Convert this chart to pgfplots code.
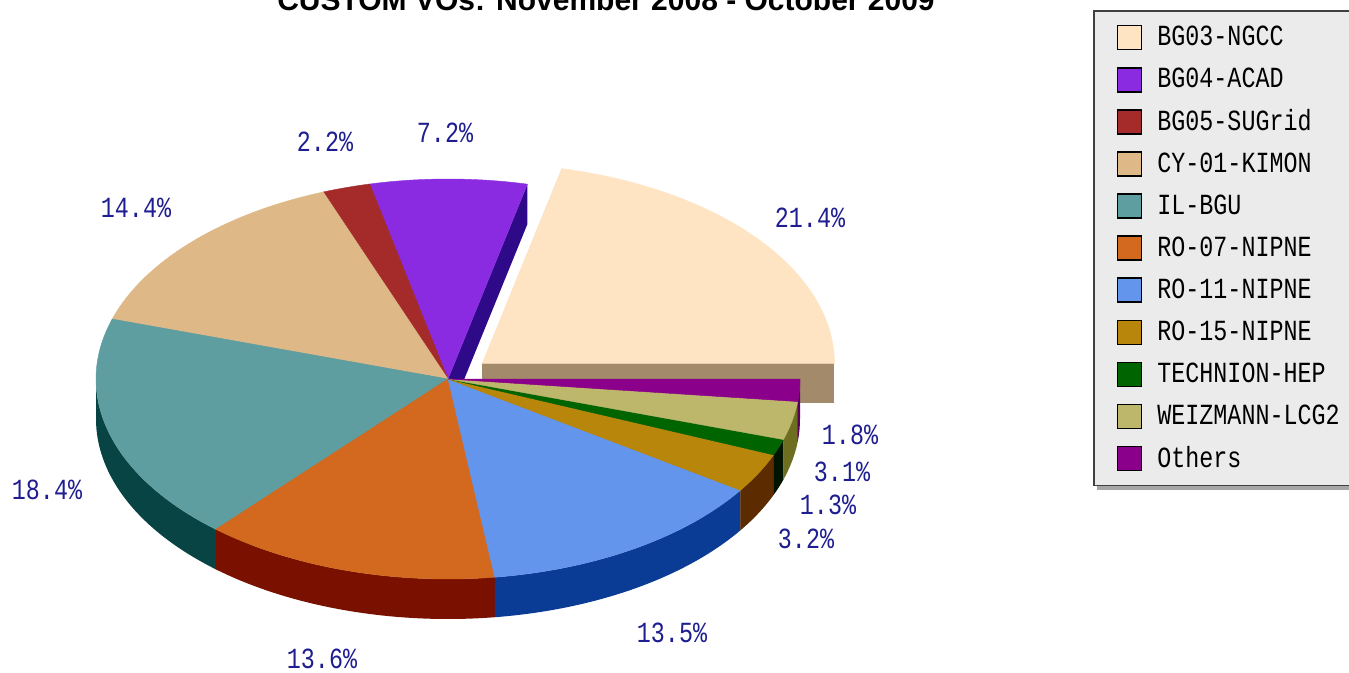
\documentclass[border=0pt]{standalone}
\usepackage{pgfplots}
\pgfplotsset{compat=1.18}
\usepackage{pgfplotstable}
\usepackage{fontspec}
\setmainfont{Liberation Sans}
\newfontfamily\pixfont[FakeStretch=0.8]{Liberation Mono}
\pgfdeclarelayer{background}
\pgfsetlayers{background,main}

\definecolor{t0}{HTML}{FFE4C4}
\definecolor{t1}{HTML}{8A2BE2}
\definecolor{t2}{HTML}{A52A2A}
\definecolor{t3}{HTML}{DEB887}
\definecolor{t4}{HTML}{5F9EA0}
\definecolor{t5}{HTML}{D2691E}
\definecolor{t6}{HTML}{6495ED}
\definecolor{t7}{HTML}{B8860B}
\definecolor{t8}{HTML}{006400}
\definecolor{t9}{HTML}{BDB76B}
\definecolor{t10}{HTML}{8B008B}
\definecolor{s0}{HTML}{A28A6A}
\definecolor{s1}{HTML}{2E0A88}
\definecolor{s2}{HTML}{5A1010}
\definecolor{s3}{HTML}{806040}
\definecolor{s4}{HTML}{084444}
\definecolor{s5}{HTML}{7A1000}
\definecolor{s6}{HTML}{0A3C96}
\definecolor{s7}{HTML}{5C2C00}
\definecolor{s8}{HTML}{001400}
\definecolor{s9}{HTML}{6E6E20}
\definecolor{s10}{HTML}{5A005A}
\definecolor{lblblue}{HTML}{1E1E90}

% slice values (percent), explode factor, label position (pixels)
\pgfplotstableread{
name value explode lx ly
BG03-NGCC 21.4 0.125 810 218
BG04-ACAD 7.2 0 445 133
BG05-SUGrid 2.2 0 325 142
CY-01-KIMON 14.4 0 136 208
IL-BGU 18.4 0 47 490
RO-07-NIPNE 13.6 0 322 659
RO-11-NIPNE 13.5 0 672 633
RO-15-NIPNE 3.2 0 806 539
TECHNION-HEP 1.3 0 828 505
WEIZMANN-LCG2 3.1 0 842 472
Others 1.8 0 850 435
}\pietable

\def\cx{448}\def\cy{379}\def\rx{352}\def\ry{200}\def\dep{40}
\def\rxc{176bp}\def\ryc{100bp}
\newcommand\pixsize{\pixfont\fontsize{14.6bp}{16bp}\selectfont}

\newcommand\loadslice[1]{%
 \edef\sA{\csname pA#1\endcsname}%
 \edef\sB{\csname pB#1\endcsname}%
 \edef\sFA{\csname pFA#1\endcsname}%
 \edef\sFB{\csname pFB#1\endcsname}%
 \edef\sOX{\csname pX#1\endcsname}%
 \edef\sOY{\csname pY#1\endcsname}%
 \edef\sDS{\csname pDS#1\endcsname}%
 \edef\sDE{\csname pDE#1\endcsname}%
 \edef\sK{\csname pK#1\endcsname}%
}
\newcommand\drawfaces[1]{%
 \loadslice{#1}%
 \fill[fill=s#1] (axis cs:{\cx+\sOX},{\cy+\sOY}) -- (axis cs:{\cx+\sOX+\rx*cos(\sA)},{\cy+\sOY-\ry*sin(\sA)})
   -- (axis cs:{\cx+\sOX+\rx*cos(\sA)},{\cy+\sOY-\ry*sin(\sA)+\sDS}) -- (axis cs:{\cx+\sOX},{\cy+\sOY+\sDS}) -- cycle;
 \fill[fill=s#1] (axis cs:{\cx+\sOX},{\cy+\sOY}) -- (axis cs:{\cx+\sOX+\rx*cos(\sB)},{\cy+\sOY-\ry*sin(\sB)})
   -- (axis cs:{\cx+\sOX+\rx*cos(\sB)},{\cy+\sOY-\ry*sin(\sB)+\sDE}) -- (axis cs:{\cx+\sOX},{\cy+\sOY+\sDE}) -- cycle;
}
\newcommand\drawrim[1]{%
 \loadslice{#1}%
 \fill[fill=s#1] (axis cs:{\cx+\sOX+\rx*cos(\sFA)},{\cy+\sOY-\ry*sin(\sFA)})
   arc[start angle=\sFA, end angle=\sFB, x radius=\rxc, y radius=\ryc] -- ++(0bp,-20bp)
   arc[start angle=\sFB, end angle=\sFA, x radius=\rxc, y radius=\ryc] -- cycle;
}
\newcommand\drawtop[1]{%
 \loadslice{#1}%
 \filldraw[fill=t#1, draw=t#1, line width=0.2bp] (axis cs:{\cx+\sOX},{\cy+\sOY})
   -- (axis cs:{\cx+\sOX+\rx*cos(\sA)},{\cy+\sOY-\ry*sin(\sA)})
   arc[start angle=\sA, end angle=\sB, x radius=\rxc, y radius=\ryc] -- cycle;
}

\begin{document}
\begin{tikzpicture}
\useasboundingbox (0,0) rectangle (674.5bp,336.5bp);
\clip (0,0) rectangle (674.5bp,336.5bp);
% ---- precompute slice angles from the table ----
\pgfplotstablegetrowsof{\pietable}
\pgfmathtruncatemacro\tmpn{\pgfplotsretval-1}
\xdef\nlast{\tmpn}
\gdef\total{0}
\foreach \i in {0,...,\nlast}{%
  \pgfplotstablegetelem{\i}{value}\of\pietable
  \pgfmathsetmacro\tmp{\total+\pgfplotsretval}%
  \xdef\total{\tmp}}
\gdef\cum{0}
\foreach \i in {0,...,\nlast}{%
  \pgfplotstablegetelem{\i}{value}\of\pietable \edef\myv{\pgfplotsretval}%
  \pgfplotstablegetelem{\i}{explode}\of\pietable \edef\myk{\pgfplotsretval}%
  \pgfmathsetmacro\ma{\cum/\total*360}%
  \pgfmathsetmacro\mb{(\cum+\myv)/\total*360}%
  \pgfmathsetmacro\mm{(\ma+\mb)/2}%
  \pgfmathsetmacro\mox{\myk*\rx*cos(\mm)}%
  \pgfmathsetmacro\moy{-\myk*\ry*sin(\mm)}%
  \pgfmathsetmacro\fa{max(\ma,180)}%
  \pgfmathsetmacro\fbb{min(\mb,360)}%
  \pgfmathsetmacro\fb{max(\fa,\fbb)}%
  \pgfmathsetmacro\ds{cos(\ma)>0 ? \dep : 0}%
  \pgfmathsetmacro\de{cos(\mb)<0 ? \dep : 0}%
  \expandafter\xdef\csname pA\i\endcsname{\ma}%
  \expandafter\xdef\csname pB\i\endcsname{\mb}%
  \expandafter\xdef\csname pFA\i\endcsname{\fa}%
  \expandafter\xdef\csname pFB\i\endcsname{\fb}%
  \expandafter\xdef\csname pX\i\endcsname{\mox}%
  \expandafter\xdef\csname pY\i\endcsname{\moy}%
  \expandafter\xdef\csname pDS\i\endcsname{\ds}%
  \expandafter\xdef\csname pDE\i\endcsname{\de}%
  \expandafter\xdef\csname pK\i\endcsname{\myk}%
  \pgfmathsetmacro\tmp{\cum+\myv}%
  \xdef\cum{\tmp}}
\begin{axis}[
  width=674.5bp, height=336.5bp, scale only axis,
  xmin=0, xmax=1349, ymin=0, ymax=673, y dir=reverse,
  hide axis, clip=false,
  legend style={at={(axis cs:1093,10)}, anchor=north west, name=leg,
    draw=black!75, line width=0.8bp, fill=black!8,
    font=\pixsize, inner xsep=6.5bp, inner ysep=7bp, row sep=8.25bp,
    nodes={inner sep=0pt},
    /tikz/every odd column/.append style={column sep=7.5bp}},
  legend image code/.code={\path (0bp,0bp); \draw[#1, draw=black, line width=0.8bp] (5bp,-6bp) rectangle (17bp,6bp);},
  legend cell align=left,
]
\addlegendimage{fill=t0}
\addlegendimage{fill=t1}
\addlegendimage{fill=t2}
\addlegendimage{fill=t3}
\addlegendimage{fill=t4}
\addlegendimage{fill=t5}
\addlegendimage{fill=t6}
\addlegendimage{fill=t7}
\addlegendimage{fill=t8}
\addlegendimage{fill=t9}
\addlegendimage{fill=t10}
\legend{BG03-NGCC,BG04-ACAD,BG05-SUGrid,CY-01-KIMON,IL-BGU,RO-07-NIPNE,RO-11-NIPNE,RO-15-NIPNE,TECHNION-HEP,WEIZMANN-LCG2,Others}
\pgfplotsextra{%
  % exploded slices first (they lie behind)
  \foreach \i in {0,...,\nlast}{%
    \loadslice{\i}%
    \ifdim\sK pt>0pt \drawfaces{\i}\drawrim{\i}\drawtop{\i}\fi}
  \foreach \i in {0,...,\nlast}{%
    \loadslice{\i}%
    \ifdim\sK pt>0pt \else \drawfaces{\i}\fi}
  \foreach \i in {0,...,\nlast}{%
    \loadslice{\i}%
    \ifdim\sK pt>0pt \else \drawrim{\i}\fi}
  \foreach \i in {0,...,\nlast}{%
    \loadslice{\i}%
    \ifdim\sK pt>0pt \else \drawtop{\i}\fi}
  \foreach \i in {0,...,\nlast}{%
    \pgfplotstablegetelem{\i}{lx}\of\pietable \edef\LX{\pgfplotsretval}%
    \pgfplotstablegetelem{\i}{ly}\of\pietable \edef\LY{\pgfplotsretval}%
    \pgfplotstablegetelem{\i}{value}\of\pietable \edef\LV{\pgfplotsretval}%
    \node[font=\pixsize, text=lblblue, inner sep=0pt] at (axis cs:\LX,\LY) {\LV\%};}
  \node[font=\bfseries\fontsize{15bp}{18bp}\selectfont, anchor=base, inner sep=0pt]
    at (axis cs:606,11) {CUSTOM VOs: November 2008 - October 2009};
}
\end{axis}
\begin{pgfonlayer}{background}
\fill[black!35] ([shift={(2bp,-2bp)}]leg.south west) rectangle ([shift={(2bp,-2bp)}]leg.north east);
\end{pgfonlayer}
\end{tikzpicture}
\end{document}
